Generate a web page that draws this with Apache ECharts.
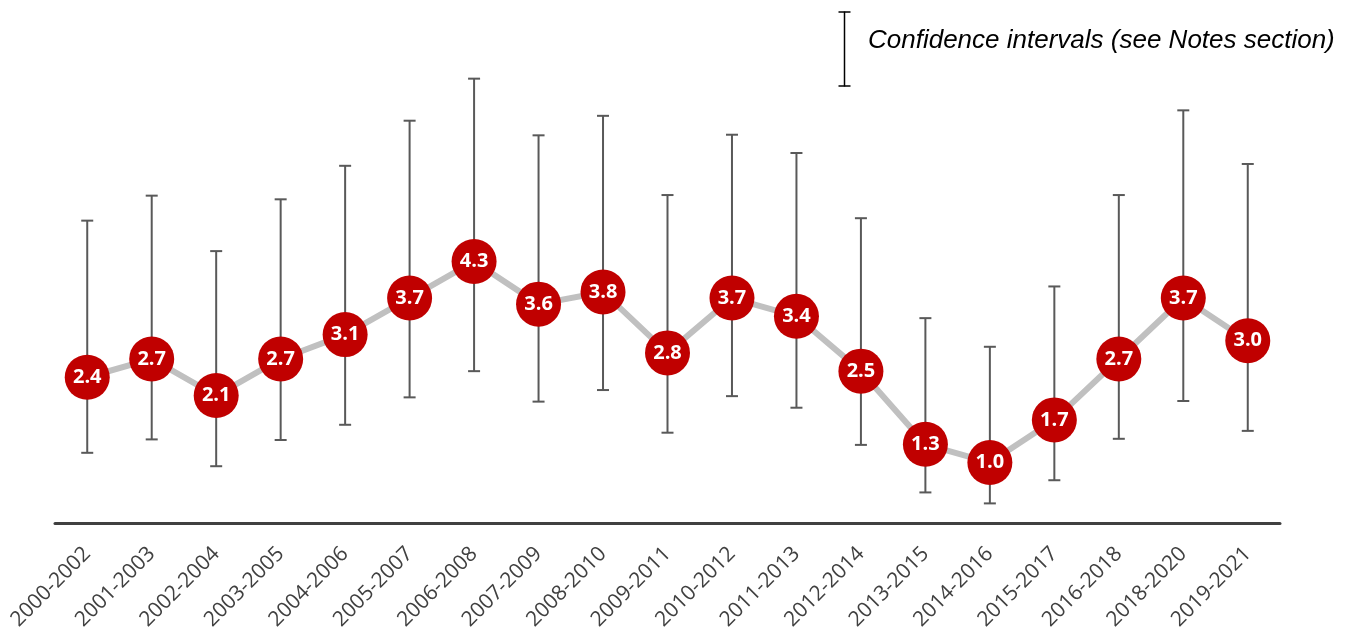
<!DOCTYPE html>
<html>
<head>
<meta charset="utf-8">
<script src="https://cdn.jsdelivr.net/npm/echarts@6/dist/echarts.min.js"></script>
<style>
  html, body { margin: 0; padding: 0; background: #ffffff; }
  #chart { width: 1357px; height: 637px; }
</style>
</head>
<body>
<div id="chart"></div>
<script>
// Three-year rolling periods
const periods = ['2000-2002', '2001-2003', '2002-2004', '2003-2005', '2004-2006', '2005-2007',
  '2006-2008', '2007-2009', '2008-2010', '2009-2011', '2010-2012', '2011-2013', '2012-2014',
  '2013-2015', '2014-2016', '2015-2017', '2016-2018', '2018-2020', '2019-2021'];

// Point estimates
const estimates = [2.4, 2.7, 2.1, 2.7, 3.1, 3.7, 4.3, 3.6, 3.8, 2.8, 3.7, 3.4, 2.5, 1.3, 1.0, 1.7, 2.7, 3.7, 3.0];

// Confidence interval bounds
const ciUpper = [4.97, 5.38, 4.47, 5.32, 5.87, 6.61, 7.30, 6.37, 6.69, 5.39, 6.38, 6.08, 5.01, 3.37, 2.90, 3.89, 5.39, 6.78, 5.90];
const ciLower = [1.16, 1.38, 0.94, 1.37, 1.62, 2.07, 2.50, 2.00, 2.19, 1.49, 2.09, 1.90, 1.29, 0.51, 0.33, 0.71, 1.39, 2.01, 1.52];

const legendText = 'Confidence intervals (see Notes section)';

const chart = echarts.init(document.getElementById('chart'), null, { renderer: 'canvas' });

const errorData = periods.map((p, i) => [i, ciUpper[i], ciLower[i]]);

chart.setOption({
  animation: false,
  backgroundColor: '#ffffff',
  grid: { left: 55, right: 77, top: 36, bottom: 113.5 },
  xAxis: {
    type: 'category',
    data: periods,
    boundaryGap: true,
    axisLine: { show: true, lineStyle: { color: '#404040', width: 3 } },
    axisTick: { show: false },
    axisLabel: {
      rotate: 45,
      margin: 27,
      interval: 0,
      color: '#404040',
      fontFamily: 'Open Sans',
      fontSize: 21
    },
    splitLine: { show: false }
  },
  yAxis: {
    type: 'value',
    min: 0,
    max: 8,
    show: false,
    splitLine: { show: false }
  },
  graphic: [
    {
      type: 'group',
      left: 836,
      top: 9,
      children: [
        { type: 'line', shape: { x1: 7, y1: 0, x2: 7, y2: 75 }, style: { stroke: '#000000', lineWidth: 1.5 } },
        { type: 'line', shape: { x1: 1, y1: 0.5, x2: 13, y2: 0.5 }, style: { stroke: '#000000', lineWidth: 1.5 } },
        { type: 'line', shape: { x1: 1, y1: 74.5, x2: 13, y2: 74.5 }, style: { stroke: '#000000', lineWidth: 1.5 } }
      ]
    },
    {
      type: 'text',
      left: 868,
      top: 28,
      style: {
        text: legendText,
        fill: '#000000',
        font: 'italic 26px "Liberation Sans"'
      }
    }
  ],
  series: [
    {
      type: 'custom',
      name: 'ci',
      z: 1,
      data: errorData,
      encode: { x: 0, y: [1, 2] },
      renderItem: function (params, api) {
        const idx = api.value(0);
        const top = api.coord([idx, api.value(1)]);
        const bot = api.coord([idx, api.value(2)]);
        const half = 6;
        const style = { stroke: '#595959', lineWidth: 2 };
        return {
          type: 'group',
          children: [
            { type: 'line', shape: { x1: top[0], y1: top[1], x2: bot[0], y2: bot[1] }, style: style },
            { type: 'line', shape: { x1: top[0] - half, y1: top[1], x2: top[0] + half, y2: top[1] }, style: style },
            { type: 'line', shape: { x1: bot[0] - half, y1: bot[1], x2: bot[0] + half, y2: bot[1] }, style: style }
          ]
        };
      }
    },
    {
      type: 'line',
      name: 'estimate',
      z: 3,
      data: estimates,
      symbol: 'circle',
      symbolSize: 45,
      lineStyle: { color: '#c0c0c0', width: 6 },
      itemStyle: { color: '#c00000' },
      label: {
        show: true,
        position: 'inside',
        color: '#ffffff',
        fontFamily: 'Open Sans',
        fontWeight: 'bold',
        fontSize: 20,
        formatter: function (p) { return p.value.toFixed(1); }
      }
    }
  ]
});
</script>
</body>
</html>
